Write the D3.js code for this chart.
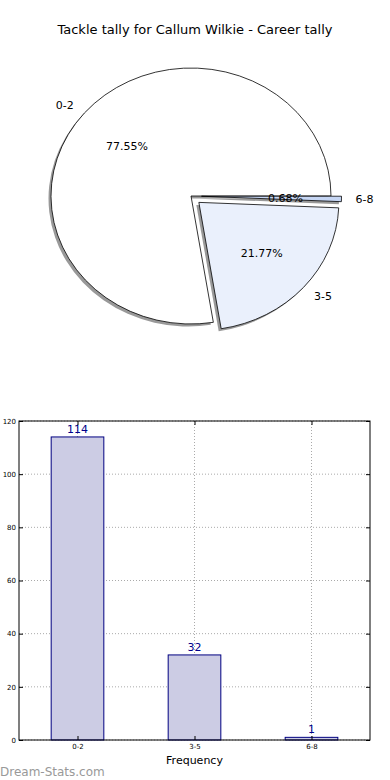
<!DOCTYPE html>
<html>
<head>
<meta charset="utf-8">
<script src="https://cdn.jsdelivr.net/npm/d3@7"></script>
<style>
  body { margin: 0; background: #fff; }
  svg { display: block; font-family: "DejaVu Sans", sans-serif; }
</style>
</head>
<body>
<svg id="chart" width="390" height="780"></svg>
<script>
const categories = ["0-2", "3-5", "6-8"]
const counts = [114, 32, 1]
const yTicks = [0, 20, 40, 60, 80, 100, 120]
const title = "Tackle tally for Callum Wilkie - Career tally"

const svg = d3.select("#chart")

// ---- pie (matplotlib style: starts at east, counter-clockwise) ----
const pieColors = ["#ffffff", "#eaf0fc", "#c6d6f4"]
const explode = [0, 0.075, 0.075]
const cx = 191, cy = 196, rx = 140, ry = 128
const sy = ry / rx

svg.append("text")
  .attr("x", 195).attr("y", 34)
  .attr("text-anchor", "middle")
  .style("font-size", "13px")
  .text(title)

const total = d3.sum(counts)
let acc = 0
const wedges = counts.map((v, i) => {
  const a0 = acc / total * 2 * Math.PI
  acc += v
  const a1 = acc / total * 2 * Math.PI
  const am = (a0 + a1) / 2
  return {
    i, v, a0, a1, am,
    dx: explode[i] * rx * Math.cos(am),
    dy: -explode[i] * ry * Math.sin(am)
  }
})

const arc = d3.arc().innerRadius(0).outerRadius(rx)
const toD3 = w => ({ startAngle: Math.PI / 2 - w.a1, endAngle: Math.PI / 2 - w.a0 })

const pieG = svg.append("g")

// shadows first
pieG.selectAll("path.shadow").data(wedges).enter()
  .append("path")
    .attr("class", "shadow")
    .attr("transform", d => `translate(${cx + d.dx - 2.5},${cy + d.dy + 2.5}) scale(1,${sy})`)
    .attr("d", d => arc(toD3(d)))
    .style("fill", "#000")
    .style("fill-opacity", 0.4)

pieG.selectAll("path.wedge").data(wedges).enter()
  .append("path")
    .attr("class", "wedge")
    .attr("transform", d => `translate(${cx + d.dx},${cy + d.dy}) scale(1,${sy})`)
    .attr("d", d => arc(toD3(d)))
    .style("fill", d => pieColors[d.i])
    .style("stroke", "#000")
    .style("stroke-width", 0.8)
    .attr("vector-effect", "non-scaling-stroke")

// category labels at 1.1 r
pieG.selectAll("text.lab").data(wedges).enter()
  .append("text")
    .attr("class", "lab")
    .attr("x", d => cx + d.dx + 1.1 * rx * Math.cos(d.am))
    .attr("y", d => cy + d.dy - 1.1 * ry * Math.sin(d.am))
    .attr("dy", "0.35em")
    .attr("text-anchor", d => Math.cos(d.am) < 0 ? "end" : "start")
    .style("font-size", "11px")
    .text(d => categories[d.i])

// percentages at 0.6 r
pieG.selectAll("text.pct").data(wedges).enter()
  .append("text")
    .attr("class", "pct")
    .attr("x", d => cx + d.dx + 0.6 * rx * Math.cos(d.am))
    .attr("y", d => cy + d.dy - 0.6 * ry * Math.sin(d.am))
    .attr("dy", "0.35em")
    .attr("text-anchor", "middle")
    .style("font-size", "11px")
    .text(d => (d.v / total * 100).toFixed(2) + "%")

// ---- bar chart ----
const x0 = 19, x1 = 370, y0 = 740, y1 = 421

const x = d3.scaleLinear().domain([-0.5, categories.length - 0.5]).range([x0, x1])
const y = d3.scaleLinear().domain([0, 120]).range([y0, y1])
const barW = x(0.45) - x(0)

const g = svg.append("g")

// grid
g.selectAll("line.gy").data(yTicks).enter()
  .append("line")
    .attr("x1", x0).attr("x2", x1)
    .attr("y1", d => y(d)).attr("y2", d => y(d))
    .style("stroke", "#aaa").style("stroke-width", 1)
    .style("stroke-dasharray", "1,2")
g.selectAll("line.gx").data(categories).enter()
  .append("line")
    .attr("x1", (d, i) => x(i)).attr("x2", (d, i) => x(i))
    .attr("y1", y0).attr("y2", y1)
    .style("stroke", "#aaa").style("stroke-width", 1)
    .style("stroke-dasharray", "1,2")

// bars
g.selectAll("rect.bar").data(counts).enter()
  .append("rect")
    .attr("class", "bar")
    .attr("x", (d, i) => x(i) - barW / 2)
    .attr("y", d => y(d))
    .attr("width", barW)
    .attr("height", d => y0 - y(d))
    .style("fill", "#cccce4")
    .style("stroke", "#000080")
    .style("stroke-width", 1)

// bar value labels
g.selectAll("text.val").data(counts).enter()
  .append("text")
    .attr("x", (d, i) => x(i))
    .attr("y", d => y(d) - 4)
    .attr("text-anchor", "middle")
    .style("font-size", "11px")
    .style("fill", "#00008b")
    .text(d => d)

// frame
g.append("rect")
  .attr("x", x0).attr("y", y1)
  .attr("width", x1 - x0).attr("height", y0 - y1)
  .style("fill", "none").style("stroke", "#000").style("stroke-width", 1)

// axes (ticks inward, matplotlib style)
const yAxis = d3.axisLeft(y).tickValues(yTicks).tickSize(-4).tickPadding(3)
const yAxisR = d3.axisRight(y).tickValues(yTicks).tickSize(-4).tickFormat("")
const xAxis = d3.axisBottom(x).tickValues(d3.range(categories.length))
  .tickFormat(i => categories[i]).tickSize(-4).tickPadding(4)
const xAxisT = d3.axisTop(x).tickValues(d3.range(categories.length)).tickSize(-4).tickFormat("")

g.append("g").attr("transform", `translate(${x0},0)`).call(yAxis)
g.append("g").attr("transform", `translate(${x1},0)`).call(yAxisR)
g.append("g").attr("transform", `translate(0,${y0})`).call(xAxis)
g.append("g").attr("transform", `translate(0,${y1})`).call(xAxisT)

g.selectAll(".domain").remove()
g.selectAll(".tick text")
  .style("font-size", "7px")
  .style("font-family", "DejaVu Sans, sans-serif")
  .style("fill", "#000")

svg.append("text")
  .attr("x", (x0 + x1) / 2).attr("y", 764)
  .attr("text-anchor", "middle")
  .style("font-size", "11px")
  .text("Frequency")

svg.append("text")
  .attr("x", 0).attr("y", 776)
  .style("font-size", "12px")
  .style("fill", "#999")
  .text("Dream-Stats.com")
</script>
</body>
</html>
